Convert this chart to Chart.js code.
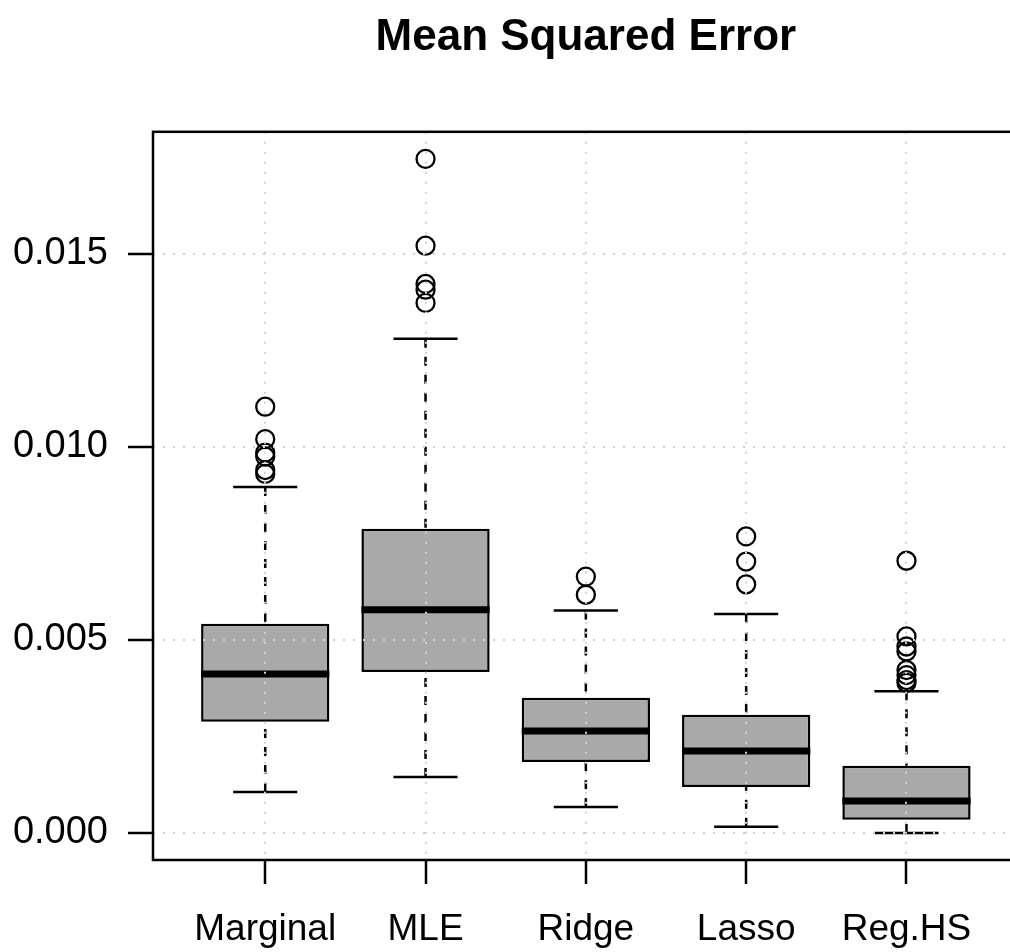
<!DOCTYPE html>
<html>
<head>
<meta charset="utf-8">
<script src="https://cdn.jsdelivr.net/npm/chart.js@4/dist/chart.umd.min.js"></script>
<style>
  html, body { margin: 0; padding: 0; background: #ffffff; overflow: hidden; }
  canvas { display: block; }
</style>
</head>
<body>
<canvas id="c" width="1030" height="952"></canvas>
<script>
// ---- data ----
const categories   = ['Marginal', 'MLE', 'Ridge', 'Lasso', 'Reg.HS'];
const whiskerLow   = [0.00106, 0.00145, 0.00067, 0.00016, 0.00000];
const q1           = [0.00288, 0.00417, 0.00184, 0.00119, 0.00034];
const median       = [0.00412, 0.00578, 0.00264, 0.00212, 0.00083];
const q3           = [0.00542, 0.00788, 0.00350, 0.00306, 0.00174];
const whiskerHigh  = [0.00896, 0.01280, 0.00576, 0.00567, 0.00367];
const outliersMarginal = [0.01104, 0.01020, 0.00985, 0.00975, 0.00940, 0.00930];
const outliersMLE      = [0.01746, 0.01521, 0.01422, 0.01407, 0.01373];
const outliersRidge    = [0.00664, 0.00617];
const outliersLasso    = [0.00768, 0.00703, 0.00644];
const outliersRegHS    = [0.00705, 0.00509, 0.00483, 0.00470, 0.00422, 0.00409, 0.00396, 0.00389];
const outliers = [outliersMarginal, outliersMLE, outliersRidge, outliersLasso, outliersRegHS];
const yTickValues = [0, 0.005, 0.010, 0.015];
const chartTitle = 'Mean Squared Error';

// ---- datasets built from the arrays ----
const boxData = categories.map((c, i) => ({ x: i + 1, y: [q1[i], q3[i]] }));
const medianData = categories.map((c, i) => ({ x: i + 1, y: median[i] }));
const capData = categories.flatMap((c, i) => [{ x: i + 1, y: whiskerLow[i] }, { x: i + 1, y: whiskerHigh[i] }]);
const outlierData = outliers.flatMap((arr, i) => arr.map(v => ({ x: i + 1, y: v })));

const FONT = "'Liberation Sans', Arial, Helvetica, sans-serif";
Chart.defaults.font.family = FONT;
Chart.defaults.color = '#000000';

function unitPx(chart, units) {
  const s = chart.scales.x;
  return Math.abs(s.getPixelForValue(1 + units) - s.getPixelForValue(1));
}

const whiskerPlugin = {
  id: 'whiskers',
  beforeDatasetsDraw(chart) {
    const { ctx, scales: { x, y } } = chart;
    ctx.save();
    ctx.strokeStyle = '#000000';
    ctx.lineWidth = 2.5;
    ctx.setLineDash([9, 9]);
    categories.forEach((c, i) => {
      const px = x.getPixelForValue(i + 1);
      ctx.beginPath();
      ctx.moveTo(px, y.getPixelForValue(whiskerLow[i]));
      ctx.lineTo(px, y.getPixelForValue(q1[i]));
      ctx.stroke();
      ctx.beginPath();
      ctx.moveTo(px, y.getPixelForValue(whiskerHigh[i]));
      ctx.lineTo(px, y.getPixelForValue(q3[i]));
      ctx.stroke();
    });
    ctx.restore();
  }
};

const framePlugin = {
  id: 'frame',
  afterDraw(chart) {
    const { ctx, chartArea: a } = chart;
    ctx.save();
    ctx.strokeStyle = '#000000';
    ctx.lineWidth = 2.5;
    ctx.setLineDash([]);
    ctx.strokeRect(a.left, a.top, a.right - a.left, a.bottom - a.top);
    ctx.restore();
  }
};

new Chart(document.getElementById('c'), {
  type: 'scatter',
  data: {
    datasets: [
      {
        label: 'outliers',
        data: outlierData,
        pointStyle: 'circle',
        pointRadius: 9,
        pointBorderWidth: 2.3,
        pointBackgroundColor: 'rgba(0,0,0,0)',
        pointBorderColor: '#000000',
        order: 1
      },
      {
        label: 'median',
        data: medianData,
        pointStyle: 'line',
        pointRadius: (ctx) => unitPx(ctx.chart, 0.4),
        pointBorderWidth: 7,
        pointBorderColor: '#000000',
        order: 2
      },
      {
        label: 'caps',
        data: capData,
        pointStyle: 'line',
        pointRadius: (ctx) => unitPx(ctx.chart, 0.2),
        pointBorderWidth: 2.5,
        pointBorderColor: '#000000',
        order: 3
      },
      {
        type: 'bar',
        label: 'box',
        data: boxData,
        backgroundColor: '#a9a9a9',
        borderColor: '#000000',
        borderWidth: 2.5,
        borderSkipped: false,
        categoryPercentage: 1.0,
        barPercentage: 0.8,
        order: 4
      }
    ]
  },
  options: {
    responsive: false,
    animation: false,
    events: [],
    layout: { padding: { left: 0, top: 0, right: 10, bottom: 0 } },
    plugins: {
      legend: { display: false },
      tooltip: { enabled: false },
      title: {
        display: true,
        text: chartTitle,
        fullSize: false,
        color: '#000000',
        font: { family: FONT, size: 44, weight: 'bold' },
        padding: { top: 11, bottom: 68 }
      }
    },
    scales: {
      x: {
        type: 'linear',
        min: 0.3,
        max: 5.7,
        offset: false,
        afterFit(scale) { scale.height = 92; },
        afterBuildTicks(scale) { scale.ticks = categories.map((c, i) => ({ value: i + 1 })); },
        ticks: {
          autoSkip: false,
          maxRotation: 0,
          padding: 24,
          font: { family: FONT, size: 37 },
          color: '#000000',
          callback: (v) => categories[Math.round(v) - 1]
        },
        grid: {
          z: 1,
          offset: false,
          color: '#d3d3d3',
          lineWidth: 2,
          borderDash: [2, 8],
          drawTicks: true,
          tickLength: 24,
          tickColor: '#000000',
          tickWidth: 2.5,
          tickBorderDash: []
        },
        border: { display: false, dash: [2, 8] }
      },
      y: {
        type: 'linear',
        min: -0.0007,
        max: 0.01816,
        offset: false,
        afterFit(scale) { scale.width = 153; },
        afterBuildTicks(scale) { scale.ticks = yTickValues.map(v => ({ value: v })); },
        ticks: {
          padding: 20,
          font: { family: FONT, size: 38 },
          color: '#000000',
          callback: (v) => Number(v).toFixed(3)
        },
        grid: {
          z: 1,
          offset: false,
          color: '#d3d3d3',
          lineWidth: 2,
          borderDash: [2, 8],
          drawTicks: true,
          tickLength: 25,
          tickColor: '#000000',
          tickWidth: 2.5,
          tickBorderDash: []
        },
        border: { display: false, dash: [2, 8] }
      }
    }
  },
  plugins: [whiskerPlugin, framePlugin]
});
</script>
</body>
</html>
